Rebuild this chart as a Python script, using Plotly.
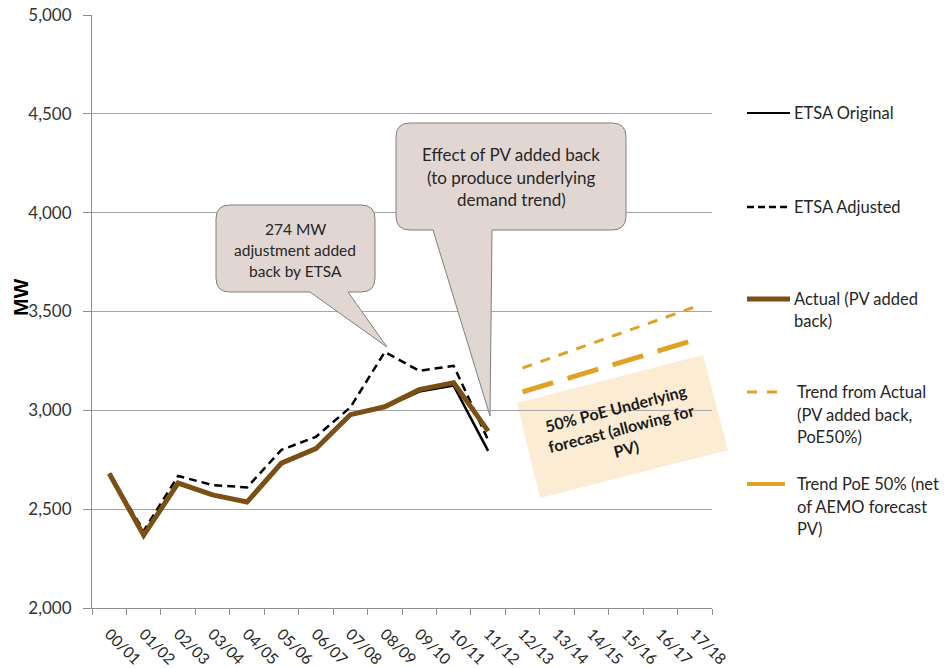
import plotly.graph_objects as go

# ---- data -------------------------------------------------------------
years = ["00/01", "01/02", "02/03", "03/04", "04/05", "05/06", "06/07", "07/08", "08/09",
         "09/10", "10/11", "11/12", "12/13", "13/14", "14/15", "15/16", "16/17", "17/18"]

etsa_original = [2680, 2375, 2630, 2570, 2535, 2730, 2805, 2975, 3015, 3095, 3125, 2795,
                 None, None, None, None, None, None]
etsa_adjusted = [2680, 2390, 2668, 2622, 2610, 2800, 2866, 3015, 3295, 3200, 3225, 2850,
                 None, None, None, None, None, None]
actual_pv_added = [2680, 2368, 2632, 2572, 2536, 2733, 2806, 2978, 3018, 3105, 3140, 2895,
                   None, None, None, None, None, None]
trend_actual = [None] * 12 + [3214, 3276, 3338, 3400, 3462, 3523]
trend_poe50 = [None] * 12 + [3093, 3146, 3198, 3251, 3303, 3356]

y_ticks = [2000, 2500, 3000, 3500, 4000, 4500, 5000]

# ---- styling ----------------------------------------------------------
W, H = 946, 668
ML, MR, MT, MB = 92, 234, 15, 60
PW, PH = W - ML - MR, H - MT - MB
FONT = "Lato"
BROWN = "#7a5014"
GOLD = "#e0a224"
CALLOUT_FILL = "#e2d6d2"
CALLOUT_LINE = "#7f7f7f"
BOX_FILL = "#fcecd3"
TXT = "#262626"


def px(x):
    """figure pixel x -> paper x"""
    return (x - ML) / PW


def py(y):
    """figure pixel y -> paper y"""
    return (H - MB - y) / PH


def callout_path(left, top, right, bottom, base_l, base_r, tip, r=14):
    """Rounded rectangle with a pointer leaving its bottom edge (pixel input)."""
    pts = [
        f"M {px(left + r)},{py(top)}",
        f"L {px(right - r)},{py(top)}",
        f"Q {px(right)},{py(top)} {px(right)},{py(top + r)}",
        f"L {px(right)},{py(bottom - r)}",
        f"Q {px(right)},{py(bottom)} {px(right - r)},{py(bottom)}",
        f"L {px(base_r)},{py(bottom)}",
        f"L {px(tip[0])},{py(tip[1])}",
        f"L {px(base_l)},{py(bottom)}",
        f"L {px(left + r)},{py(bottom)}",
        f"Q {px(left)},{py(bottom)} {px(left)},{py(bottom - r)}",
        f"L {px(left)},{py(top + r)}",
        f"Q {px(left)},{py(top)} {px(left + r)},{py(top)}",
        "Z",
    ]
    return " ".join(pts)


fig = go.Figure()

fig.add_trace(go.Scatter(x=years, y=etsa_original, mode="lines", name="ETSA Original",
                         line=dict(color="#000000", width=2.5)))
fig.add_trace(go.Scatter(x=years, y=etsa_adjusted, mode="lines", name="ETSA Adjusted",
                         line=dict(color="#000000", width=2.5, dash="8px,5px")))
fig.add_trace(go.Scatter(x=years, y=actual_pv_added, mode="lines", name="Actual (PV added back)",
                         line=dict(color=BROWN, width=5)))
fig.add_trace(go.Scatter(x=years, y=trend_actual, mode="lines",
                         name="Trend from Actual (PV added back, PoE50%)",
                         line=dict(color=GOLD, width=3, dash="10px,9px")))
fig.add_trace(go.Scatter(x=years, y=trend_poe50, mode="lines",
                         name="Trend PoE 50% (net of AEMO forecast PV)",
                         line=dict(color=GOLD, width=5, dash="32px,15px")))

shapes = []
annotations = []

# callout: ETSA adjustment
shapes.append(dict(type="path", xref="paper", yref="paper", layer="above",
                   path=callout_path(216, 205, 375, 292, 310, 348, (387, 347)),
                   fillcolor=CALLOUT_FILL, line=dict(color=CALLOUT_LINE, width=1)))
for i, t in enumerate(["274 MW", "adjustment added", "back by ETSA"]):
    annotations.append(dict(x=px(295), y=py(229 + 21 * i), xref="paper", yref="paper",
                            text=t, showarrow=False, xanchor="center", yanchor="middle",
                            font=dict(family=FONT, size=15.5, color=TXT)))

# callout: PV effect
shapes.append(dict(type="path", xref="paper", yref="paper", layer="above",
                   path=callout_path(396, 123, 626, 230, 433, 492, (490, 416)),
                   fillcolor=CALLOUT_FILL, line=dict(color=CALLOUT_LINE, width=1)))
for i, t in enumerate(["Effect of PV added back", "(to produce underlying", "demand trend)"]):
    annotations.append(dict(x=px(511), y=py(154 + 23 * i), xref="paper", yref="paper",
                            text=t, showarrow=False, xanchor="center", yanchor="middle",
                            font=dict(family=FONT, size=17, color=TXT)))

# tilted forecast box
box = [(517, 403), (703, 355), (728, 450), (540, 498)]
shapes.append(dict(type="path", xref="paper", yref="paper", layer="below",
                   path="M " + " L ".join(f"{px(a)},{py(b)}" for a, b in box) + " Z",
                   fillcolor=BOX_FILL, line=dict(width=0)))
annotations.append(dict(x=px(621), y=py(428), xref="paper", yref="paper",
                        xanchor="center", yanchor="middle",
                        text="<b>50% PoE Underlying<br>forecast (allowing for<br>PV)</b>",
                        showarrow=False, textangle=-14.5, align="center",
                        font=dict(family=FONT, size=16, color="#1a1a1a")))

# legend drawn at the right of the plot
legend_items = [
    (113, ["ETSA Original"], dict(color="#000000", width=2), 790),
    (207, ["ETSA Adjusted"], dict(color="#000000", width=2.5, dash="7px,4px"), 790),
    (299, ["Actual (PV added", "back)"], dict(color=BROWN, width=5), 790),
    (392, ["Trend from Actual", "(PV added back,", "PoE50%)"],
     dict(color=GOLD, width=3, dash="10px,10px"), 781),
    (484, ["Trend PoE 50% (net", "of AEMO forecast", "PV)"], dict(color=GOLD, width=4), 785),
]
for y0, lines, lstyle, x_end in legend_items:
    shapes.append(dict(type="line", xref="paper", yref="paper",
                       x0=px(747), x1=px(x_end), y0=py(y0), y1=py(y0), line=lstyle))
    text_x = 792 if x_end >= 790 else 795
    for j, t in enumerate(lines):
        annotations.append(dict(x=px(text_x), y=py(y0 + 22.5 * j), xref="paper", yref="paper",
                                text=t, showarrow=False, xanchor="left", yanchor="middle",
                                font=dict(family=FONT, size=16.5, color=TXT)))

# axis title
annotations.append(dict(x=px(20), y=py(298), xref="paper", yref="paper", text="<b>MW</b>",
                        showarrow=False, textangle=-90, xanchor="center", yanchor="middle",
                        font=dict(family="Liberation Sans", size=21, color="#000000")))

fig.update_layout(
    width=W, height=H,
    margin=dict(l=ML, r=MR, t=MT, b=MB, autoexpand=False),
    paper_bgcolor="white", plot_bgcolor="white",
    showlegend=False,
    shapes=shapes, annotations=annotations,
    font=dict(family=FONT, color=TXT),
)
fig.update_xaxes(
    type="category", categoryorder="array", categoryarray=years,
    range=[-0.5, len(years) - 0.5], automargin=False,
    showgrid=False, showline=True, linecolor="#8c8c8c", linewidth=1,
    ticks="outside", tickson="boundaries", ticklen=6, tickcolor="#8c8c8c",
    tickangle=45, ticklabelstandoff=10, tickfont=dict(family=FONT, size=15.5, color=TXT),
)
fig.update_yaxes(
    range=[2000, 5000], tickvals=y_ticks, tickformat=",", automargin=False,
    showgrid=True, gridcolor="#a6a6a6", gridwidth=1,
    showline=True, linecolor="#8c8c8c", linewidth=1,
    ticks="outside", ticklen=8, tickcolor="#8c8c8c", ticklabelstandoff=8,
    tickfont=dict(family=FONT, size=17, color="#333333"), zeroline=False,
)

fig.write_html("out.html")
